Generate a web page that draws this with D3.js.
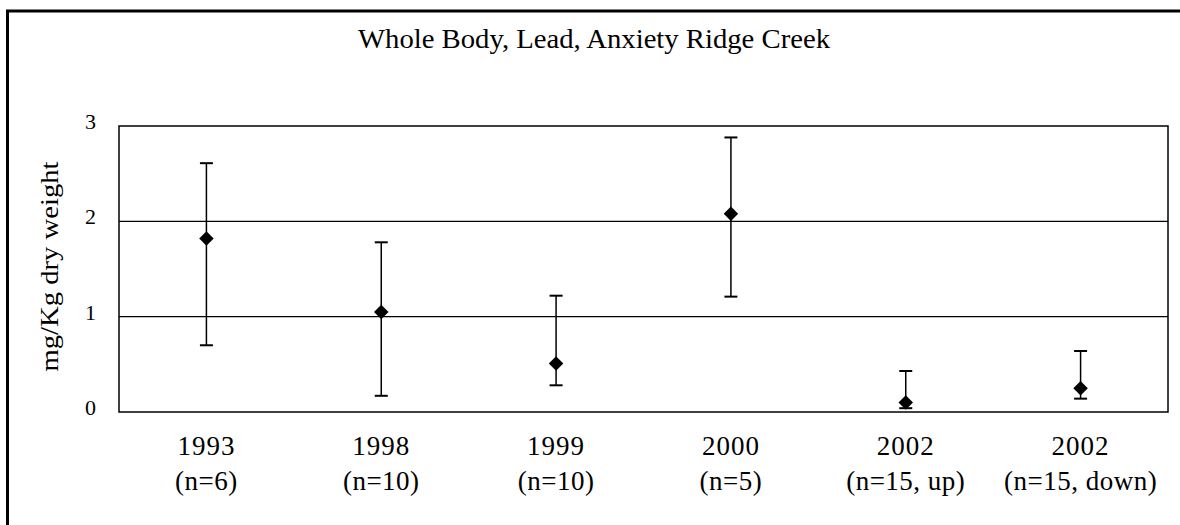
<!DOCTYPE html>
<html>
<head>
<meta charset="utf-8">
<script src="https://cdn.jsdelivr.net/npm/d3@7"></script>
<style>
  html, body { margin: 0; padding: 0; background: #fff; }
  svg { display: block; }
  text { font-family: "Liberation Serif", "Times New Roman", serif; fill: #000; }
</style>
</head>
<body>
<svg id="chart" width="1180" height="525"></svg>
<script>
// ---- data ----
const years = ["1993", "1998", "1999", "2000", "2002", "2002"];
const sampleNotes = ["(n=6)", "(n=10)", "(n=10)", "(n=5)", "(n=15, up)", "(n=15, down)"];
const means = [1.82, 1.05, 0.51, 2.08, 0.10, 0.25];
const lows  = [0.70, 0.17, 0.28, 1.21, 0.04, 0.14];
const highs = [2.61, 1.78, 1.22, 2.88, 0.43, 0.64];
const yTicks = [0, 1, 2, 3];
const titleText = "Whole Body, Lead, Anxiety Ridge Creek";
const yLabel = "mg/Kg dry weight";

const svg = d3.select("#chart");

// outer frame (extends beyond the picture on right and bottom)
svg.append("rect")
  .attr("x", 7.5).attr("y", 11)
  .attr("width", 1300).attr("height", 700)
  .attr("fill", "none").attr("stroke", "#000").attr("stroke-width", 3);

const plot = { left: 119, right: 1168, top: 126, bottom: 412 };
const idx = d3.range(years.length);

const x = d3.scaleBand().domain(idx).range([plot.left, plot.right]).padding(0);
const y = d3.scaleLinear().domain([0, 3]).range([plot.bottom, plot.top]);

// title
svg.append("text")
  .attr("x", 594).attr("y", 48)
  .attr("text-anchor", "middle")
  .attr("font-size", 27)
  .attr("textLength", 472).attr("lengthAdjust", "spacingAndGlyphs")
  .text(titleText);

// y axis label
svg.append("text")
  .attr("transform", "translate(58,266.5) rotate(-90)")
  .attr("text-anchor", "middle")
  .attr("font-size", 26)
  .attr("textLength", 210).attr("lengthAdjust", "spacingAndGlyphs")
  .text(yLabel);

// gridlines
svg.append("g").selectAll("line")
  .data(yTicks.filter(d => d > 0 && d < 3))
  .join("line")
  .attr("x1", plot.left).attr("x2", plot.right)
  .attr("y1", d => y(d)).attr("y2", d => y(d))
  .attr("stroke", "#000").attr("stroke-width", 1.3);

// plot border
svg.append("rect")
  .attr("x", plot.left).attr("y", plot.top)
  .attr("width", plot.right - plot.left).attr("height", plot.bottom - plot.top)
  .attr("fill", "none").attr("stroke", "#000").attr("stroke-width", 1.5);

// y tick labels via axis
const yAxis = d3.axisLeft(y).tickValues(yTicks).tickSize(0).tickPadding(0).tickFormat(d3.format("d"));
const gy = svg.append("g").attr("transform", "translate(96,0)").call(yAxis);
gy.attr("font-size", 22).attr("font-family", "Liberation Serif, Times New Roman, serif");
gy.select(".domain").remove();
gy.selectAll("text")
  .attr("fill", "#000")
  .attr("dy", "0.12em")
  .attr("x", 0);

// x labels
const xl = svg.append("g");
idx.forEach(i => {
  const cx = x(i) + x.bandwidth() / 2;
  xl.append("text").attr("x", cx).attr("y", 455)
    .attr("text-anchor", "middle").attr("font-size", 27)
    .attr("letter-spacing", 1)
    .text(years[i]);
  xl.append("text").attr("x", cx).attr("y", 490)
    .attr("text-anchor", "middle").attr("font-size", 27)
    .attr("letter-spacing", 0.5)
    .text(sampleNotes[i]);
});

// error bars
const eb = svg.append("g");
const capW = 13;
const cxOf = i => x(i) + x.bandwidth() / 2;
eb.selectAll("line.v")
  .data(idx).join("line").attr("class", "v")
  .attr("x1", cxOf).attr("x2", cxOf)
  .attr("y1", i => y(lows[i])).attr("y2", i => y(highs[i]))
  .attr("stroke", "#000").attr("stroke-width", 1.5);
eb.selectAll("line.hi")
  .data(idx).join("line").attr("class", "hi")
  .attr("x1", i => cxOf(i) - capW / 2).attr("x2", i => cxOf(i) + capW / 2)
  .attr("y1", i => y(highs[i])).attr("y2", i => y(highs[i]))
  .attr("stroke", "#000").attr("stroke-width", 2);
eb.selectAll("line.lo")
  .data(idx).join("line").attr("class", "lo")
  .attr("x1", i => cxOf(i) - capW / 2).attr("x2", i => cxOf(i) + capW / 2)
  .attr("y1", i => y(lows[i])).attr("y2", i => y(lows[i]))
  .attr("stroke", "#000").attr("stroke-width", 2);

// diamonds
const diamond = d3.symbol().type(d3.symbolSquare).size(105);
svg.append("g").selectAll("path")
  .data(idx).join("path")
  .attr("d", diamond)
  .attr("transform", i => `translate(${cxOf(i)},${y(means[i])}) rotate(45)`)
  .attr("fill", "#000");
</script>
</body>
</html>
